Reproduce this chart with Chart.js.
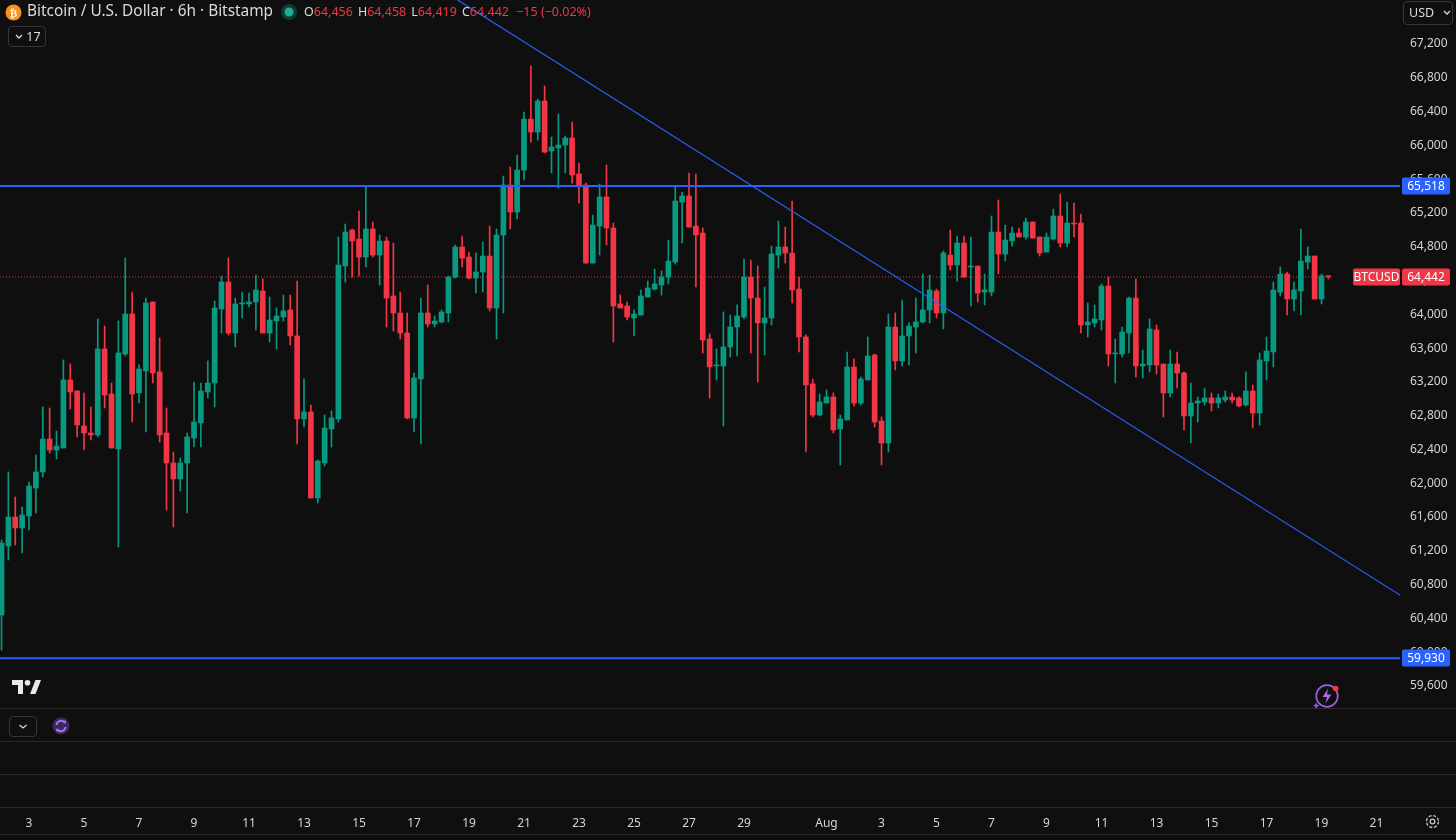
<!DOCTYPE html>
<html>
<head>
<meta charset="utf-8">
<script src="https://cdn.jsdelivr.net/npm/chart.js@4.4.1/dist/chart.umd.min.js"></script>
<style>
  html, body { margin: 0; padding: 0; background: #0f0f0f; }
  #wrap { position: relative; width: 1456px; height: 840px; overflow: hidden; font-family: "Noto Sans", sans-serif; }
  #chart { position: absolute; left: 0; top: 0; }
  .ov { position: absolute; white-space: nowrap; }
  .title { left: 27px; top: 0px; font-size: 15.4px; color: #dbdbdb; }
  .ohlc { left: 304px; top: 3px; font-size: 12.5px; color: #f23645; }
  .ohlc b { font-weight: normal; color: #dbdbdb; margin-left: 5px; }
  .btn { border: 1px solid #363636; border-radius: 4px; color: #dbdbdb; box-sizing: border-box; }
</style>
</head>
<body>
<div id="wrap">
  <canvas id="chart" width="1456" height="840"></canvas>

  <!-- legend row -->
  <svg class="ov" style="left:5px;top:4px" width="17" height="17" viewBox="0 0 17 17">
    <circle cx="8.5" cy="8.5" r="8" fill="#f7931a"/>
    <text x="8.7" y="12.5" font-size="11" font-family="DejaVu Sans" font-weight="bold" fill="#fff" text-anchor="middle">₿</text>
  </svg>
  <div class="ov title">Bitcoin / U.S. Dollar · 6h · Bitstamp</div>
  <svg class="ov" style="left:280px;top:3px" width="18" height="18">
    <circle cx="9" cy="9" r="8" fill="#0d3b33"/>
    <circle cx="9" cy="9" r="4.5" fill="#22ab94"/>
  </svg>
  <div class="ov ohlc"><b style="margin-left:0">O</b>64,456<b>H</b>64,458<b>L</b>64,419<b>C</b>64,442 <span style="margin-left:4px">−15 (−0.02%)</span></div>

  <div class="ov btn" style="left:8px;top:26px;width:38px;height:21px;font-size:12.5px;line-height:19px;padding-left:6px">
    <svg width="8" height="6" style="vertical-align:1px"><path d="M1 1 L4 4 L7 1" stroke="#dbdbdb" stroke-width="1.3" fill="none"/></svg> 17
  </div>
  <div class="ov btn" style="left:1403px;top:1px;width:50px;height:24px;font-size:12.5px;line-height:22px;padding-left:5px">
    USD <svg width="8" height="6" style="margin-left:6px;vertical-align:1px"><path d="M1 1 L4 4 L7 1" stroke="#dbdbdb" stroke-width="1.3" fill="none"/></svg>
  </div>

  <!-- logo and icons -->
  <svg class="ov" style="left:12px;top:680px" width="30" height="15" viewBox="0 0 30 15">
    <path d="M0 0 H11 V14 H6 V5 H0 Z" fill="#e8e8e8"/>
    <circle cx="15.5" cy="2.8" r="2.8" fill="#e8e8e8"/>
    <path d="M18 14 L23.5 0 H29 L23.5 14 Z" fill="#e8e8e8"/>
  </svg>
  <svg class="ov" style="left:1313px;top:682px" width="28" height="28" viewBox="0 0 26 26">
    <circle cx="13" cy="13" r="10" fill="none" stroke="#9c5ce0" stroke-width="1.6"/>
    <path d="M14 6 L9 14 H13 L11.5 20 L17 11.5 H13 Z" fill="#b36cf0"/>
    <circle cx="21" cy="6" r="2.6" fill="#f23645"/>
    <path d="M3 19 l1 2 l2 1 l-2 1 l-1 2 l-1 -2 l-2 -1 l2 -1 Z" fill="#7c5cf0"/>
  </svg>
  <div class="ov btn" style="left:9px;top:716px;width:28px;height:21px">
    <svg width="26" height="19"><path d="M9.5 8 L13 11 L16.5 8" stroke="#dbdbdb" stroke-width="1.3" fill="none"/></svg>
  </div>
  <svg class="ov" style="left:52px;top:717px" width="18" height="18" viewBox="0 0 18 18">
    <circle cx="9" cy="9" r="8.5" fill="#3b2a5c"/>
    <path d="M4.5 8 A4.6 4.6 0 0 1 13 6" stroke="#a874f0" stroke-width="1.8" fill="none"/>
    <path d="M13.5 10 A4.6 4.6 0 0 1 5 12" stroke="#a874f0" stroke-width="1.8" fill="none"/>
    <path d="M11 5 L14 6.5 L13.5 3 Z" fill="#a874f0"/>
    <path d="M7 13 L4 11.5 L4.5 15 Z" fill="#a874f0"/>
  </svg>
  <svg class="ov" style="left:1424px;top:813px" width="17" height="17" viewBox="0 0 17 17">
    <circle cx="8.5" cy="8.5" r="6" fill="none" stroke="#c8c8c8" stroke-width="1.3" stroke-dasharray="3 1.7"/>
    <circle cx="8.5" cy="8.5" r="2.3" fill="none" stroke="#c8c8c8" stroke-width="1.3"/>
  </svg>
</div>

<script>
// 6h candles, Bitstamp BTC/USD, starting Jul 2 00:00 (x = candle index)
const opens = [
  60440, 61257, 61601, 61471, 61613, 61944, 62134, 62524, 62394, 62418,
  63223, 63093, 62678, 62595, 62572, 63590, 63057, 62406, 63531, 64004,
  63069, 63330, 64146, 63318, 62595, 62240, 62051, 62240, 62536, 62714,
  63081, 63187, 64063, 64382, 63779, 64123, 64123, 64146, 64276, 63779,
  63921, 63969, 64052, 63744, 62761, 62844, 61826, 62240, 62643, 62761,
  64572, 64998, 64891, 64678, 65010, 64702, 64868, 64217, 64016, 63779,
  62773, 63235, 64016, 63886, 63910, 64016, 64441, 64797, 64678, 64430,
  64501, 64690, 64075, 64939, 65531, 65211, 65708, 66312, 66158, 66525,
  65933, 65969, 66004, 66087, 65661, 65531, 64607, 65045, 65389, 65022,
  64123, 64099, 63957, 63992, 64205, 64299, 64347, 64441, 64619, 65329,
  65401, 65045, 64962, 63708, 63389, 63389, 63614, 63850, 63969, 64441,
  64193, 63898, 63957, 64702, 64797, 64726, 64299, 63732, 63176, 62808,
  62950, 63022, 62643, 62749, 63377, 62950, 63223, 63519, 62737, 62477,
  63850, 63448, 63744, 63850, 63910, 64052, 64276, 64016, 64702, 64584,
  64844, 64560, 64572, 64264, 64264, 64974, 64714, 64868, 64962, 64915,
  65093, 64915, 64737, 64891, 65164, 64844, 65081, 65081, 63874, 63898,
  63933, 64335, 63531, 63531, 63779, 64193, 63389, 63401, 63815, 63412,
  63069, 63412, 63306, 62797, 62950, 62962, 63010, 62950, 62986, 63022,
  63010, 62927, 63093, 62832, 63448, 63554, 64264, 64477, 64181, 64276,
  64619, 64690, 64181, 64456
];
const highs = [
  61328, 62134, 61838, 61719, 62015, 62335, 62903, 62891, 62619, 63460,
  63412, 63093, 63069, 62903, 63945, 63862, 63187, 63921, 64666, 64264,
  63401, 64193, 64146, 63720, 62891, 62370, 62299, 62595, 63199, 63187,
  63448, 64158, 64453, 64666, 64193, 64264, 64252, 64465, 64418, 64205,
  64075, 64228, 64228, 64394, 63235, 62927, 62276, 62808, 62856, 64915,
  65069, 65010, 65223, 65519, 65093, 64939, 64915, 64844, 64264, 64016,
  63306, 64193, 64347, 63981, 64052, 64453, 64820, 64927, 64737, 64726,
  64856, 65045, 65010, 65637, 65744, 65886, 66395, 66940, 66549, 66703,
  66099, 66371, 66111, 66277, 65791, 65554, 65175, 65543, 65768, 65081,
  64228, 64146, 64052, 64288, 64394, 64536, 64513, 64879, 65519, 65448,
  65673, 65661, 65022, 63768, 63590, 64028, 63992, 64111, 64655, 64643,
  64572, 64323, 64808, 65104, 65033, 65341, 64441, 63756, 63235, 63057,
  63105, 63069, 62808, 63554, 63472, 63258, 63732, 63531, 62785, 64004,
  64016, 64170, 63898, 64193, 64477, 64465, 64299, 64749, 64998, 64927,
  64927, 64915, 64572, 64477, 65164, 65353, 65057, 65033, 65022, 65140,
  65093, 64915, 64962, 65246, 65424, 65329, 65317, 65187, 64134, 64111,
  64359, 64441, 63708, 63850, 64205, 64418, 63578, 63945, 63874, 63412,
  63578, 63554, 63318, 63187, 63022, 63128, 63069, 63057, 63093, 63069,
  63022, 63318, 63164, 63543, 63732, 64382, 64560, 64501, 64382, 65010,
  64797, 64690, 64477, 64458
];
const lows = [
  60026, 61092, 61269, 61175, 61447, 61648, 62074, 62359, 62288, 62418,
  62879, 62548, 62394, 62512, 62548, 62891, 62418, 61246, 63507, 62726,
  62950, 62607, 63187, 62489, 61684, 61482, 61909, 61648, 62430, 62430,
  63010, 62903, 63779, 63756, 63614, 63957, 64087, 63815, 63779, 63673,
  63590, 63921, 63637, 62465, 62666, 61826, 61766, 62205, 62430, 62726,
  64382, 64441, 64453, 64560, 64678, 64347, 63850, 63803, 63708, 62761,
  62607, 62465, 63850, 63850, 63898, 63910, 64430, 64560, 64418, 64252,
  64264, 64040, 63708, 64016, 65010, 65128, 65590, 66040, 66063, 65910,
  65673, 65495, 65673, 65554, 65317, 64607, 64607, 64702, 64820, 63673,
  64075, 63933, 63744, 63992, 64205, 64288, 64228, 64359, 64595, 64844,
  65033, 64323, 63543, 63010, 63223, 62678, 63495, 63507, 63945, 63543,
  63199, 63519, 63874, 64548, 64607, 64134, 63554, 62370, 62785, 62797,
  62950, 62595, 62217, 62749, 62915, 62927, 63223, 62666, 62217, 62370,
  63341, 63389, 63401, 63543, 63898, 63898, 63957, 63827, 64524, 64394,
  64441, 64099, 64146, 64111, 64217, 64477, 64631, 64808, 64915, 64891,
  64903, 64690, 64737, 64879, 64797, 64797, 64915, 63779, 63732, 63850,
  63815, 63389, 63187, 63495, 63543, 63258, 63247, 63318, 63294, 62785,
  63022, 63128, 62631, 62477, 62726, 62927, 62856, 62891, 62962, 62950,
  62903, 62915, 62655, 62690, 63223, 63377, 64217, 63992, 64040, 63992,
  64536, 64181, 64123, 64419
];
const closes = [
  61293, 61601, 61471, 61624, 61968, 62134, 62524, 62394, 62441, 63223,
  63081, 62690, 62595, 62572, 63590, 63045, 62418, 63543, 64004, 63057,
  63353, 64134, 63306, 62572, 62240, 62051, 62240, 62548, 62726, 63093,
  63187, 64075, 64382, 63779, 64123, 64134, 64146, 64288, 63779, 63933,
  63981, 64040, 63744, 62761, 62844, 61826, 62264, 62655, 62773, 64584,
  64974, 64868, 64678, 65010, 64702, 64868, 64193, 64016, 63779, 62773,
  63247, 64016, 63886, 63921, 64028, 64441, 64797, 64666, 64430, 64501,
  64690, 64075, 64939, 65531, 65211, 65708, 66312, 66158, 66525, 65921,
  65981, 66004, 66087, 65649, 65531, 64607, 65057, 65389, 65022, 64099,
  64075, 63969, 64004, 64217, 64311, 64359, 64441, 64631, 65341, 65401,
  65033, 64939, 63696, 63377, 63401, 63614, 63850, 63981, 64441, 64193,
  63898, 63957, 64714, 64797, 64726, 64288, 63732, 63164, 62808, 62962,
  63022, 62631, 62761, 63377, 62950, 63235, 63507, 62726, 62477, 63850,
  63448, 63744, 63862, 63910, 64052, 64288, 64016, 64726, 64584, 64844,
  64441, 64572, 64252, 64288, 64974, 64714, 64879, 64962, 64915, 65093,
  64903, 64726, 64915, 65164, 64844, 65081, 65069, 63874, 63910, 63945,
  64335, 63531, 63543, 63791, 64193, 63389, 63412, 63827, 63401, 63069,
  63412, 63306, 62797, 62950, 62974, 63010, 62950, 63010, 63022, 62986,
  62915, 63093, 62832, 63460, 63566, 64288, 64477, 64181, 64288, 64631,
  64690, 64181, 64456, 64442
];

// time axis: candle index of each labelled day, and its label
const dayTickIdx = [4, 12, 20, 28, 36, 44, 52, 60, 68, 76, 84, 92, 100, 108,
                    120, 128, 136, 144, 152, 160, 168, 176, 184, 192, 200];
const dayLabels = ['3', '5', '7', '9', '11', '13', '15', '17', '19', '21', '23', '25', '27', '29',
                   'Aug', '3', '5', '7', '9', '11', '13', '15', '17', '19', '21'];
const priceTicks = [59600, 60000, 60400, 60800, 61200, 61600, 62000, 62400, 62800, 63200,
                    63600, 64000, 64400, 64800, 65200, 65600, 66000, 66400, 66800, 67200];

// drawn levels
const resistance = 65518;
const support = 59930;
const lastPrice = 64442;
const trendIdx = [60, 210];
const trendPrice = [68048, 60338];

const UP = '#089981', DOWN = '#f23645', BLUE = '#2962ff';
const candleColors = closes.map((c, i) => c >= opens[i] ? UP : DOWN);

const xMin = -0.22, xMax = 203.42;

const fmt = v => Number(v).toLocaleString('en-US');

const overlay = {
  id: 'overlay',
  beforeDraw(chart) {
    const ctx = chart.ctx;
    ctx.save();
    ctx.fillStyle = '#0f0f0f';
    ctx.fillRect(0, 0, chart.width, chart.height);
    ctx.restore();
  },
  afterDraw(chart) {
    const ctx = chart.ctx;
    const y = chart.scales.y;
    ctx.save();
    // lower empty pane and time axis separators
    ctx.fillStyle = '#0f0f0f';
    ctx.fillRect(0, 708, chart.width, 100);
    ctx.strokeStyle = '#2b2b2b';
    ctx.lineWidth = 1;
    [708.5, 741.5, 774.5, 807.5, 834.5].forEach(py => {
      ctx.beginPath(); ctx.moveTo(0, py); ctx.lineTo(chart.width, py); ctx.stroke();
    });

    const tag = (x, w, value, bg, text) => {
      const py = Math.round(y.getPixelForValue(value));
      ctx.fillStyle = bg;
      ctx.beginPath();
      ctx.roundRect(x, py - 8.5, w, 17, 2);
      ctx.fill();
      ctx.fillStyle = '#ffffff';
      ctx.font = '12px "Noto Sans"';
      ctx.textAlign = 'center';
      ctx.textBaseline = 'middle';
      ctx.fillText(text, x + w / 2, py + 0.5);
    };
    tag(1402, 48, resistance, BLUE, fmt(resistance));
    tag(1402, 48, support, BLUE, fmt(support));
    tag(1402, 48, lastPrice, DOWN, fmt(lastPrice));
    tag(1353, 47, lastPrice, DOWN, 'BTCUSD');
    ctx.restore();
  }
};

new Chart(document.getElementById('chart'), {
  type: 'bar',
  data: {
    datasets: [
      {
        type: 'line',
        data: [{x: xMin, y: lastPrice}, {x: 192.7, y: lastPrice}],
        borderColor: DOWN,
        borderWidth: 1,
        borderDash: [1, 2],
        pointRadius: 0,
        order: 5
      },
      {
        type: 'line',
        data: [{x: xMin, y: resistance}, {x: xMax, y: resistance}],
        borderColor: BLUE,
        borderWidth: 2,
        pointRadius: 0,
        order: 1
      },
      {
        type: 'line',
        data: [{x: xMin, y: support}, {x: xMax, y: support}],
        borderColor: BLUE,
        borderWidth: 2,
        pointRadius: 0,
        order: 1
      },
      {
        type: 'line',
        data: trendIdx.map((x, i) => ({x, y: trendPrice[i]})),
        borderColor: BLUE,
        borderWidth: 1.2,
        pointRadius: 0,
        order: 0
      },
      {
        // wicks
        data: lows.map((l, i) => ({x: i, y: [l, highs[i]]})),
        backgroundColor: candleColors,
        barThickness: 1,
        grouped: false,
        order: 3
      },
      {
        // bodies
        data: opens.map((o, i) => ({x: i, y: [o, closes[i]]})),
        backgroundColor: candleColors,
        barThickness: 5,
        minBarLength: 1,
        grouped: false,
        order: 2
      }
    ]
  },
  options: {
    responsive: false,
    animation: false,
    layout: {padding: 0},
    plugins: {
      legend: {display: false},
      tooltip: {enabled: false}
    },
    scales: {
      x: {
        type: 'linear',
        min: xMin,
        max: xMax,
        offset: false,
        grid: {display: false},
        border: {display: false},
        afterBuildTicks: s => { s.ticks = dayTickIdx.map(v => ({value: v})); },
        afterFit: s => { s.height = 32; s.paddingLeft = 0; s.paddingRight = 0; },
        ticks: {
          autoSkip: false,
          maxRotation: 0,
          padding: 0,
          color: '#d1d4dc',
          font: {family: '"Noto Sans"', size: 12},
          callback: (v, i) => dayLabels[i]
        }
      },
      y: {
        position: 'right',
        min: 58156,
        max: 67721,
        grid: {display: false},
        border: {display: false},
        afterBuildTicks: s => { s.ticks = priceTicks.map(v => ({value: v})); },
        afterFit: s => { s.width = 56; s.paddingTop = 0; s.paddingBottom = 0; },
        ticks: {
          crossAlign: 'near',
          padding: 2,
          color: '#d1d4dc',
          font: {family: '"Noto Sans"', size: 12},
          callback: v => fmt(v)
        }
      }
    }
  },
  plugins: [overlay]
});
</script>
</body>
</html>
